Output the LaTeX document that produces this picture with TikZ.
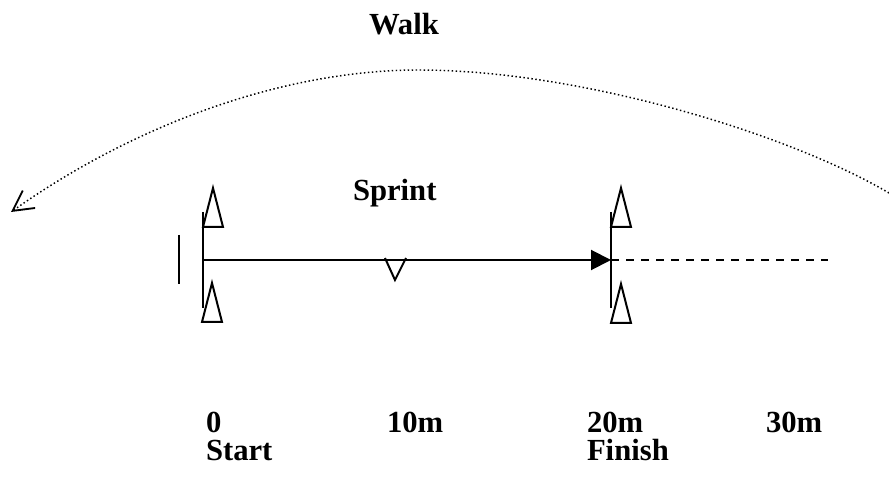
\documentclass[tikz,border=0pt]{standalone}
\usepackage{fontspec}
\setmainfont{Liberation Serif}
\usetikzlibrary{arrows.meta}
\begin{document}
\begin{tikzpicture}[x=0.75pt,y=-0.75pt,
  line width=1.5pt, line join=miter,
  lbl/.style={font=\fontsize{23}{27}\selectfont\bfseries, inner sep=0pt, anchor=base west},
  cone/.pic={\draw[line width=1.5pt] (0,0) -- (10,-39) -- (20,0) -- cycle;},
  walkpath/.style={line width=1.1pt, dash pattern=on 1.1pt off 1.9pt,
    -{Straight Barb[length=15pt,width=16pt,line width=1.4pt]}},
  runline/.style={line width=1.5pt, -{Triangle[length=15pt,width=15pt]}},
  extra/.style={line width=1.5pt, dash pattern=on 6pt off 5.25pt}
]
\useasboundingbox (0,0) rectangle (889,477);

% key points along the track
\coordinate (start) at (203,260);
\coordinate (finish) at (611,260);
\coordinate (runout) at (828,260);
\coordinate (walkR) at (889,193);
\coordinate (walkTop) at (419,70);
\coordinate (walkL) at (11,212);

% start and finish posts
\draw (203,212) -- (203,308);
\draw (179,235) -- (179,284);
\draw (611,212) -- (611,308);

% cones
\pic at (203,227) {cone};
\pic at (202,322) {cone};
\pic at (611,227) {cone};
\pic at (611,323) {cone};

% sprint line, then the run-out
\draw[runline] (start) -- (finish);
\draw[extra] (finish) -- (runout);

% 10 m marker
\draw (385,258) -- (395,280) -- (406,258);

% walk back
\draw[walkpath] (walkR) .. controls (789,134) and (580,70) .. (walkTop)
  .. controls (280,70) and (131,127) .. (walkL);

% labels
\node[lbl] (walk) at (368,35) {Walk};
\node[lbl] (sprint) at (352,201) {Sprint};
\node[lbl] (d0) at (205,432) {0};
\node[lbl] (d10) at (386,432) {10m};
\node[lbl] (d20) at (586,432) {20m};
\node[lbl] (d30) at (765,432) {30m};
\node[lbl] (startlbl) at (205,460) {Start};
\node[lbl] (finishlbl) at (586,460) {Finish};
\end{tikzpicture}
\end{document}
